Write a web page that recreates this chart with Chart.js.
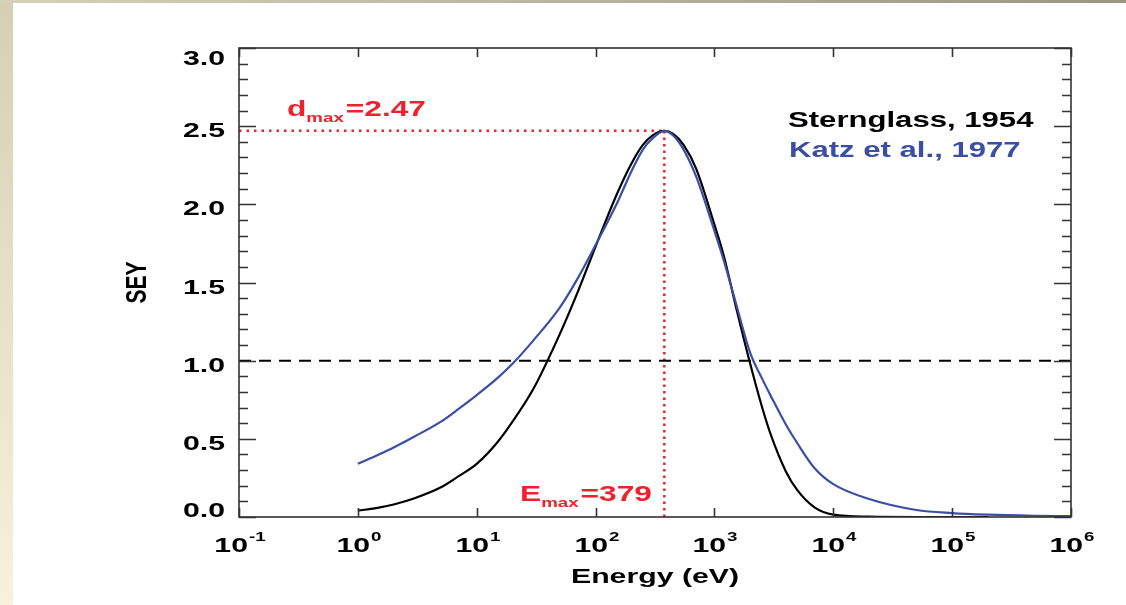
<!DOCTYPE html>
<html lang="en">
<head>
<meta charset="UTF-8" />
<title>SEY vs Energy</title>
<script src="https://cdn.jsdelivr.net/npm/chart.js"></script>
<style>
  html, body { margin: 0; padding: 0; background: #fff; overflow: hidden; }
  #wrap { position: relative; width: 1126px; height: 605px; background: #fff; }
  #leftBar { position: absolute; left: 0; top: 0; width: 13px; height: 605px; background: linear-gradient(#d5d0b3, #f8f1dc); }
  #topBar { position: absolute; left: 0; top: 0; width: 1126px; height: 3px; background: linear-gradient(to right, #d6d1b8, #9b9681); }
  #plot { position: absolute; left: 0; top: 0; }
</style>
</head>
<body>
<div id="wrap">
  <div id="leftBar"></div>
  <div id="topBar"></div>
  <canvas id="plot" width="1126" height="605"></canvas>
</div>

<script>
// values
const energy = [1, 1.5, 2, 3, 5, 7, 10, 15, 20, 30, 50, 70, 100, 150, 200, 250, 300, 379,
  450, 550, 700, 1000, 1200, 1500, 2000, 2500, 3000, 4000, 5000, 7000, 10000, 20000, 50000, 100000, 200000, 500000, 1000000];
const sternglass = [0.04, 0.06, 0.08, 0.12, 0.19, 0.26, 0.34, 0.48, 0.61, 0.82, 1.17, 1.43, 1.73, 2.06, 2.26, 2.38, 2.44, 2.47,
  2.45, 2.38, 2.23, 1.87, 1.67, 1.36, 0.98, 0.71, 0.52, 0.29, 0.17, 0.06, 0.015, 0.002, 0, 0, 0, null, null];
const katz = [0.34, 0.40, 0.445, 0.515, 0.61, 0.69, 0.78, 0.89, 0.98, 1.13, 1.34, 1.52, 1.74, 2.00, 2.21, 2.35, 2.42, 2.47,
  2.44, 2.35, 2.18, 1.83, 1.64, 1.38, 1.05, 0.89, 0.77, 0.59, 0.47, 0.31, 0.21, 0.115, 0.045, 0.025, 0.015, 0.008, 0.005];

const xRange = [0.1, 1000000];
const yRange = [0, 3];
const dMax = 2.47;
const eMax = 379;
const unity = 1.0;

const RED = '#f0202c';
const BLUE = '#3a4fa4';
const STRETCH = 1.44;   // the original figure is squeezed wide
const FONT = '"Liberation Sans", Arial, Helvetica, sans-serif';

const pts = (xs, ys) => xs.map((x, i) => ({ x, y: ys[i] })).filter(p => p.y !== null);

function wideText(ctx, txt, x, y, size, align, color) {
  ctx.save();
  ctx.font = 'bold ' + size + 'px ' + FONT;
  ctx.fillStyle = color;
  ctx.textAlign = 'left';
  ctx.textBaseline = 'alphabetic';
  const w = ctx.measureText(txt).width * STRETCH;
  let x0 = x;
  if (align === 'center') x0 = x - w / 2;
  if (align === 'right') x0 = x - w;
  ctx.translate(x0, y);
  ctx.scale(STRETCH, 1);
  ctx.fillText(txt, 0, 0);
  ctx.restore();
  return w;
}

function textWidth(ctx, txt, size) {
  ctx.save();
  ctx.font = 'bold ' + size + 'px ' + FONT;
  const w = ctx.measureText(txt).width * STRETCH;
  ctx.restore();
  return w;
}

// box, inward ticks, tick labels, titles and the text annotations
const idlFrame = {
  id: 'idlFrame',
  afterDatasetsDraw(chart) {
    const { ctx, chartArea: a, scales: { x, y } } = chart;
    ctx.save();
    ctx.strokeStyle = '#333';
    ctx.lineWidth = 1.6;
    ctx.strokeRect(a.left, a.top, a.right - a.left, a.bottom - a.top);

    // y axis: minor every 0.1, major every 0.5, on both sides
    y.ticks.forEach(t => {
      const py = Math.round(y.getPixelForValue(t.value)) + 0.5;
      const major = Math.abs(t.value * 2 - Math.round(t.value * 2)) < 1e-6;
      const len = major ? 17 : 9;
      ctx.beginPath();
      ctx.moveTo(a.left, py); ctx.lineTo(a.left + len, py);
      ctx.moveTo(a.right, py); ctx.lineTo(a.right - len, py);
      ctx.stroke();
      if (major) {
        const base = Math.min(Math.max(py + 10, a.top + 17), a.bottom);
        wideText(ctx, t.value.toFixed(1), 225, base, 21, 'right', '#000');
      }
    });

    // x axis: decades only, bottom and top
    x.ticks.forEach(t => {
      const lg = Math.log10(t.value);
      if (Math.abs(lg - Math.round(lg)) > 1e-6) return;
      const px = Math.round(x.getPixelForValue(t.value)) + 0.5;
      ctx.beginPath();
      ctx.moveTo(px, a.bottom); ctx.lineTo(px, a.bottom - 9);
      ctx.moveTo(px, a.top); ctx.lineTo(px, a.top + 9);
      ctx.stroke();
      const ex = String(Math.round(lg));
      const w10 = textWidth(ctx, '10', 21);
      const wex = textWidth(ctx, ex, 13);
      const x0 = px - (w10 + wex) / 2;
      wideText(ctx, '10', x0, 552, 21, 'left', '#000');
      wideText(ctx, ex, x0 + w10 + 1, 541, 13, 'left', '#000');
    });

    // axis titles
    wideText(ctx, 'Energy (eV)', (a.left + a.right) / 2, 583, 21, 'center', '#000');
    ctx.save();
    ctx.translate(138, (a.top + a.bottom) / 2);
    ctx.scale(STRETCH, 1);
    ctx.rotate(-Math.PI / 2);
    ctx.font = 'bold 21px ' + FONT;
    ctx.fillStyle = '#000';
    ctx.textAlign = 'center';
    ctx.textBaseline = 'middle';
    ctx.fillText('SEY', 0, 0);
    ctx.restore();

    // legend as coloured text
    const ds = chart.data.datasets;
    wideText(ctx, ds[1].label, 788, 127, 21.6, 'left', ds[1].borderColor);
    wideText(ctx, ds[0].label, 789, 157, 21.6, 'left', ds[0].borderColor);

    // d_max label
    let cx = 287;
    cx += wideText(ctx, 'd', cx, 116, 22, 'left', RED);
    cx += wideText(ctx, 'max', cx, 122, 13, 'left', RED);
    wideText(ctx, '=' + dMax.toFixed(2), cx + 2, 116, 22, 'left', RED);

    // E_max label
    cx = 520;
    cx += wideText(ctx, 'E', cx, 501, 22, 'left', RED);
    cx += wideText(ctx, 'max', cx, 507, 13, 'left', RED);
    wideText(ctx, '=' + eMax, cx + 2, 501, 22, 'left', RED);
    ctx.restore();
  }
};

new Chart(document.getElementById('plot'), {
  type: 'line',
  data: {
    datasets: [
      { label: 'Katz et al., 1977', data: pts(energy, katz), borderColor: BLUE, borderWidth: 2.2, pointRadius: 0,
        cubicInterpolationMode: 'monotone', order: 0 },
      { label: 'Sternglass, 1954', data: pts(energy, sternglass), borderColor: '#000', borderWidth: 2.2, pointRadius: 0,
        cubicInterpolationMode: 'monotone', order: 1 },
      { label: 'unity', data: [{ x: xRange[0], y: unity }, { x: xRange[1], y: unity }],
        borderColor: '#000', borderWidth: 2, borderDash: [12, 8], pointRadius: 0, order: 2 },
      { label: 'dmax', data: [{ x: xRange[0], y: dMax }, { x: eMax, y: dMax }],
        borderColor: RED, borderWidth: 2.5, borderDash: [2.5, 5], pointRadius: 0, order: 3 },
      { label: 'Emax', data: [{ x: eMax, y: yRange[0] }, { x: eMax, y: dMax }],
        borderColor: RED, borderWidth: 2.5, borderDash: [2.5, 4], pointRadius: 0, order: 3 }
    ]
  },
  options: {
    responsive: false,
    animation: false,
    layout: { padding: { left: 239, right: 55, top: 48, bottom: 88 } },
    plugins: { legend: { display: false }, tooltip: { enabled: false } },
    scales: {
      x: {
        type: 'logarithmic', min: xRange[0], max: xRange[1],
        ticks: { display: false }, grid: { display: false }, border: { display: false },
        afterFit: s => { s.height = 0; }
      },
      y: {
        type: 'linear', min: yRange[0], max: yRange[1],
        ticks: { display: false, stepSize: 0.1 }, grid: { display: false }, border: { display: false },
        afterFit: s => { s.width = 0; }
      }
    }
  },
  plugins: [idlFrame]
});
</script>
</body>
</html>
